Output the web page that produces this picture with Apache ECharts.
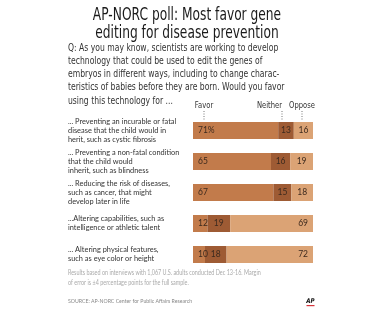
<!DOCTYPE html>
<html>
<head>
<meta charset="utf-8">
<script src="https://cdn.jsdelivr.net/npm/echarts@6/dist/echarts.min.js"></script>
<style>
  html, body { margin: 0; padding: 0; background: #fff; }
  #main { width: 381px; height: 310px; }
</style>
</head>
<body>
<div id="main"></div>
<script>
// survey items (top to bottom)
var items = [
  '... Preventing an incurable or fatal\ndisease that the child would in\nherit, such as cystic fibrosis',
  '... Preventing a non-fatal condition\nthat the child would\ninherit, such as blindness',
  '... Reducing the risk of diseases,\nsuch as cancer, that might\ndevelop later in life',
  '...Altering capabilities, such as\nintelligence or athletic talent',
  '... Altering physical features,\nsuch as eye color or height'
]
var favor = [71, 65, 67, 12, 10]
var neither = [13, 16, 15, 19, 18]
var oppose = [16, 19, 18, 69, 72]

var question = [
  'Q: As you may know, scientists are working to develop',
  'technology that could be used to edit the genes of',
  'embryos in different ways, including to change charac-',
  'teristics of babies before they are born. Would you favor',
  'using this technology for ...'
]

var sans = '"DejaVu Sans", sans-serif'
var lato = 'Lato, "Noto Sans", sans-serif'
var labelColor = '#3d2a1e'

var chart = echarts.init(document.getElementById('main'))

function seg(name, data, color, pos) {
  return {
    name: name,
    type: 'bar',
    stack: 'all',
    barWidth: 17,
    itemStyle: { color: color },
    label: {
      show: true,
      position: pos,
      distance: 5,
      color: labelColor,
      fontFamily: lato,
      fontSize: 8.5,
      formatter: function (p) {
        if (name === 'Favor' && p.dataIndex === 0) return p.value + '%'
        return p.value
      }
    },
    data: data.map(function (v) {
      // wide oppose segments get their number at the right end
      if (name === 'Oppose' && v > 40) return { value: v, label: { position: 'insideRight' } }
      return v
    })
  }
}

// condensed headline look: squeeze text horizontally
var graphics = [
  { type: 'text', x: 187, y: 15, scaleX: 0.68, style: { text: 'AP-NORC poll: Most favor gene', font: '18px ' + sans, fill: '#1a1a1a', align: 'center', verticalAlign: 'middle' } },
  { type: 'text', x: 187, y: 33, scaleX: 0.68, style: { text: 'editing for disease prevention', font: '18px ' + sans, fill: '#1a1a1a', align: 'center', verticalAlign: 'middle' } }
]
question.forEach(function (line, i) {
  graphics.push({ type: 'text', x: 68, y: 48 + i * 13.2, scaleX: 0.73, style: { text: line, font: '10.5px ' + sans, fill: '#333', verticalAlign: 'middle' } })
})
// column headers with dotted leaders
var heads = [['Favor', 204, 'center'], ['Neither', 282, 'right'], ['Oppose', 302, 'center']]
heads.forEach(function (h) {
  graphics.push({ type: 'text', x: h[1], y: 106, scaleX: 0.8, style: { text: h[0], font: '8.5px ' + sans, fill: '#333', align: h[2], verticalAlign: 'middle' } })
  graphics.push({ type: 'line', shape: { x1: h[1], y1: 111, x2: h[1], y2: 121 }, style: { stroke: '#777', lineWidth: 1, lineDash: [1, 1.5] } })
})
graphics.push(
  { type: 'text', x: 68, y: 273, scaleX: 0.8, style: { text: 'Results based on interviews with 1,067 U.S. adults conducted Dec 13-16. Margin', font: '6.8px ' + lato, fill: '#aaa', verticalAlign: 'middle' } },
  { type: 'text', x: 68, y: 283, scaleX: 0.8, style: { text: 'of error is \u00b14 percentage points for the full sample.', font: '6.8px ' + lato, fill: '#aaa', verticalAlign: 'middle' } },
  { type: 'text', x: 68, y: 301, style: { text: 'SOURCE: AP-NORC Center for Public Affairs Research', font: '5.2px ' + lato, fill: '#888', verticalAlign: 'middle' } },
  { type: 'text', x: 310.5, y: 301.5, scaleX: 0.85, style: { text: 'AP', font: 'bold italic 6.5px ' + sans, fill: '#111', align: 'center', verticalAlign: 'middle' } },
  { type: 'rect', shape: { x: 306.5, y: 305, width: 8, height: 1.2 }, style: { fill: '#d6333b' } }
)

chart.setOption({
  animation: false,
  grid: { left: 193, right: 68, top: 115, bottom: 40 },
  xAxis: { type: 'value', min: 0, max: 100, show: false },
  yAxis: {
    type: 'category',
    inverse: true,
    data: items,
    axisLine: { show: false },
    axisTick: { show: false },
    axisLabel: {
      align: 'left',
      margin: 125,
      fontFamily: lato,
      fontSize: 7.4,
      lineHeight: 9.2,
      color: '#333'
    }
  },
  series: [
    seg('Favor', favor, '#c27b4b', 'insideLeft'),
    seg('Neither', neither, '#9e5b34', 'inside'),
    seg('Oppose', oppose, '#dba375', 'inside')
  ],
  graphic: graphics
})
</script>
</body>
</html>
